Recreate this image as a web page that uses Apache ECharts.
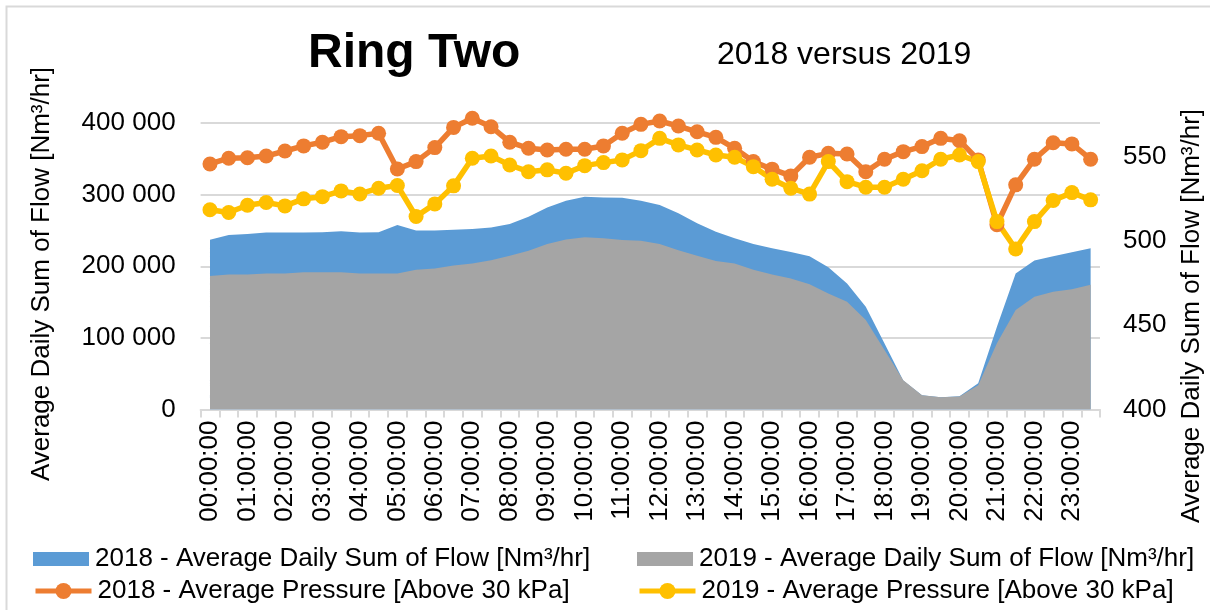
<!DOCTYPE html>
<html>
<head>
<meta charset="utf-8">
<script src="https://cdn.jsdelivr.net/npm/echarts@6/dist/echarts.min.js"></script>
<style>
  html, body { margin: 0; padding: 0; background: #fff; }
  #chart { width: 1210px; height: 610px; }
</style>
</head>
<body>
<div id="chart"></div>
<script>
// Half-hourly time slots
const categories = [
  "00:00:00","00:30:00","01:00:00","01:30:00","02:00:00","02:30:00","03:00:00","03:30:00",
  "04:00:00","04:30:00","05:00:00","05:30:00","06:00:00","06:30:00","07:00:00","07:30:00",
  "08:00:00","08:30:00","09:00:00","09:30:00","10:00:00","10:30:00","11:00:00","11:30:00",
  "12:00:00","12:30:00","13:00:00","13:30:00","14:00:00","14:30:00","15:00:00","15:30:00",
  "16:00:00","16:30:00","17:00:00","17:30:00","18:00:00","18:30:00","19:00:00","19:30:00",
  "20:00:00","20:30:00","21:00:00","21:30:00","22:00:00","22:30:00","23:00:00","23:30:00"
];

// Average daily sum of flow [Nm³/hr]
const flow2018 = [
  237000, 243500, 245000, 247000, 247000, 247000, 247500, 249000,
  247000, 247500, 257500, 250000, 250000, 251000, 252000, 254000,
  259000, 269000, 282000, 291500, 297000, 296000, 295500, 291500,
  285500, 274000, 260000, 248000, 239000, 231000, 225000, 220000,
  214000, 198500, 176000, 143500, 92000, 40500, 20000, 17000,
  18500, 36500, 115500, 190000, 208000, 214000, 219500, 225000
];
const flow2019 = [
  186500, 188500, 188500, 190000, 190000, 191500, 191500, 191500,
  190000, 190000, 190000, 195000, 197000, 201000, 204000, 208500,
  214500, 221500, 231000, 237500, 240500, 239000, 236500, 235500,
  231000, 222500, 214500, 207500, 204000, 195000, 188500, 183000,
  175000, 162000, 150500, 125000, 83000, 41000, 20000, 17000,
  18000, 34000, 92500, 139000, 157500, 164500, 168000, 174000
];

// Average pressure [above 30 kPa]
const pressure2018 = [
  545.7, 549.1, 549.4, 550.4, 553.4, 556.4, 558.6, 561.9,
  562.5, 563.9, 542.7, 547.1, 555.4, 567.4, 572.8, 567.8,
  558.6, 555.0, 554.0, 554.4, 554.4, 556.4, 563.9, 569.2,
  571.2, 568.2, 564.8, 561.5, 555.0, 547.1, 542.6, 538.6,
  549.7, 552.0, 551.6, 541.1, 548.5, 553.0, 556.0, 560.9,
  559.5, 548.1, 509.6, 533.3, 548.5, 558.3, 557.6, 548.5
];
const pressure2019 = [
  518.5, 516.9, 521.2, 522.8, 520.8, 525.0, 526.3, 529.7,
  527.9, 531.3, 532.9, 514.5, 522.0, 532.7, 549.1, 550.4,
  545.1, 541.1, 542.2, 540.2, 544.7, 546.5, 548.1, 553.6,
  560.9, 557.0, 554.0, 551.0, 549.7, 544.1, 536.6, 531.3,
  527.8, 547.1, 535.2, 531.9, 531.9, 536.6, 541.7, 548.5,
  551.0, 547.1, 511.5, 495.2, 511.5, 524.0, 528.7, 524.4
];

const seriesNames = [
  "2018 - Average Daily Sum of Flow [Nm³/hr]",
  "2019 - Average Daily Sum of Flow [Nm³/hr]",
  "2018 - Average Pressure [Above 30 kPa]",
  "2019 - Average Pressure [Above 30 kPa]"
];
const axisName = "Average Daily Sum of Flow [Nm³/hr]";

const FONT = "Liberation Sans, Arial, sans-serif";
const TXT = "#000";
const GRID_C = "#D9D9D9";
const C_BLUE = "#5B9BD5", C_GRAY = "#A5A5A5", C_ORANGE = "#ED7D31", C_YELLOW = "#FFC000";

function spaced(v) {
  return String(v).replace(/\B(?=(\d{3})+(?!\d))/g, " ");
}

// One legend entry placed at a fixed spot (two columns, two rows)
function legendAt(name, left, top, icon, h) {
  const item = icon ? { name: name, icon: icon } : { name: name };
  return {
    data: [item], left: left, top: top, orient: "horizontal",
    itemWidth: 56, itemHeight: h, itemGap: 0, padding: 0,
    lineStyle: { width: 5 },
    textStyle: { fontSize: 26, color: TXT, fontFamily: FONT, padding: [0, 0, 0, 1] }
  };
}

const chart = echarts.init(document.getElementById("chart"), null, { renderer: "canvas" });

chart.setOption({
  animation: false,
  backgroundColor: "#fff",
  textStyle: { fontFamily: FONT },
  title: [
    { text: "Ring Two", left: 303, top: 25,
      textStyle: { fontSize: 48, fontWeight: "bold", color: TXT, fontFamily: FONT } },
    { text: "2018 versus 2019", left: 712, top: 34,
      textStyle: { fontSize: 32, fontWeight: "normal", color: TXT, fontFamily: FONT } }
  ],
  grid: { left: 200.6, right: 110, top: 123, bottom: 200.5, containLabel: false },
  legend: [
    legendAt(seriesNames[0], 33, 546, "rect", 14),
    legendAt(seriesNames[1], 637, 546, "rect", 14),
    legendAt(seriesNames[2], 33, 578, null, 20),
    legendAt(seriesNames[3], 637, 578, null, 20)
  ],
  xAxis: {
    type: "category",
    data: categories,
    boundaryGap: true,
    axisLine: { show: true, lineStyle: { color: GRID_C, width: 2 } },
    axisTick: { show: true, interval: 0, length: 8, lineStyle: { color: GRID_C, width: 2 } },
    axisLabel: { interval: 1, rotate: 90, fontSize: 26, color: TXT, fontFamily: FONT, margin: 11 },
    splitLine: { show: false }
  },
  yAxis: [
    {
      type: "value", min: 0, max: 400000, interval: 100000,
      axisLine: { show: false }, axisTick: { show: false },
      axisLabel: { fontSize: 26, color: TXT, fontFamily: FONT, margin: 25, formatter: spaced },
      splitLine: { show: true, lineStyle: { color: GRID_C, width: 2 } }
    },
    {
      type: "value", min: 400, max: 570, interval: 50, position: "right",
      axisLine: { show: false }, axisTick: { show: false },
      axisLabel: { fontSize: 26, color: TXT, fontFamily: FONT, margin: 23, showMaxLabel: false },
      splitLine: { show: false }
    }
  ],
  graphic: [
    { type: "rect", left: 4, top: 4, silent: true, z: -10,
      shape: { width: 1400, height: 800 },
      style: { fill: null, stroke: GRID_C, lineWidth: 2 } },
    { type: "text", x: 42, y: 274, rotation: Math.PI / 2, silent: true,
      style: { text: axisName, fill: TXT, font: "26px " + FONT, textAlign: "center", textVerticalAlign: "middle" } },
    { type: "text", x: 1192, y: 316, rotation: Math.PI / 2, silent: true,
      style: { text: axisName, fill: TXT, font: "26px " + FONT, textAlign: "center", textVerticalAlign: "middle" } }
  ],
  series: [
    {
      name: seriesNames[0], type: "line", yAxisIndex: 0, data: flow2018,
      showSymbol: false, symbol: "none",
      lineStyle: { width: 0 }, itemStyle: { color: C_BLUE },
      areaStyle: { color: C_BLUE, opacity: 1 }
    },
    {
      name: seriesNames[1], type: "line", yAxisIndex: 0, data: flow2019,
      showSymbol: false, symbol: "none",
      lineStyle: { width: 0 }, itemStyle: { color: C_GRAY },
      areaStyle: { color: C_GRAY, opacity: 1 }
    },
    {
      name: seriesNames[2], type: "line", yAxisIndex: 1, data: pressure2018,
      symbol: "circle", symbolSize: 15, showAllSymbol: true, clip: false,
      lineStyle: { width: 5.5, color: C_ORANGE }, itemStyle: { color: C_ORANGE }
    },
    {
      name: seriesNames[3], type: "line", yAxisIndex: 1, data: pressure2019,
      symbol: "circle", symbolSize: 15, showAllSymbol: true, clip: false,
      lineStyle: { width: 5.5, color: C_YELLOW }, itemStyle: { color: C_YELLOW }
    }
  ]
});
</script>
</body>
</html>
